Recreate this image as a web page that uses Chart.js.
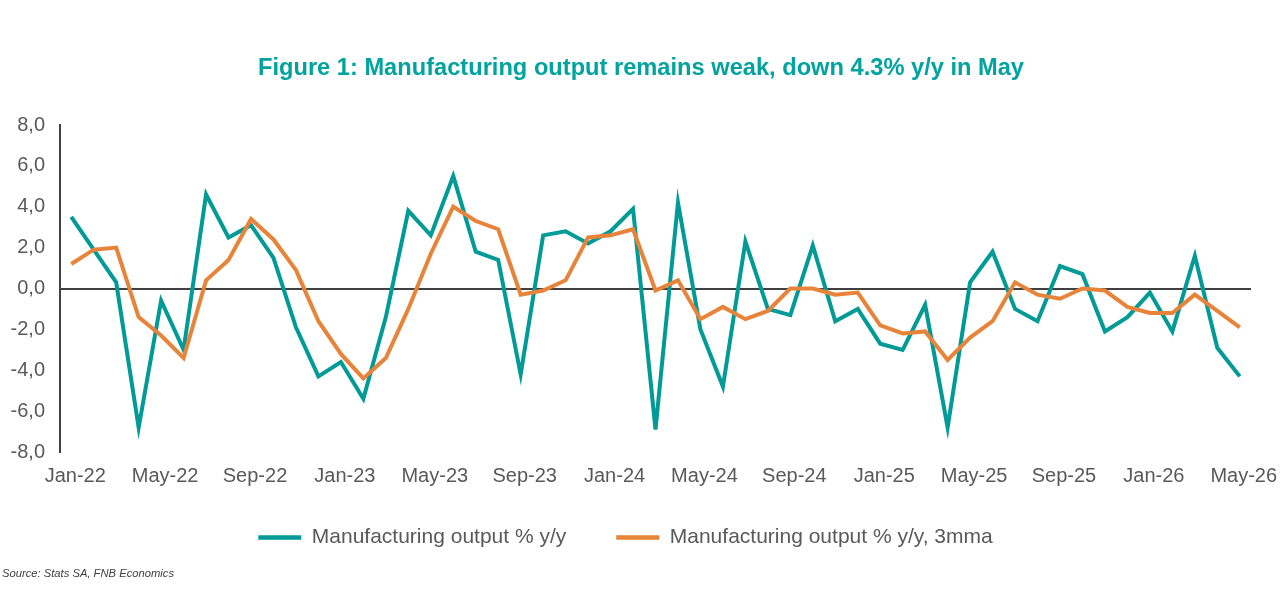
<!DOCTYPE html>
<html><head><meta charset="utf-8">
<script src="https://cdn.jsdelivr.net/npm/chart.js@4.4.1/dist/chart.umd.min.js"></script>
<style>html,body{margin:0;padding:0;background:#fff;overflow:hidden}#wrap{width:1281px;height:596px;position:relative}</style>
</head><body><div id="wrap"><canvas id="c" width="1281" height="596"></canvas></div>
<script>
const categories = ["Jan-22","Feb-22","Mar-22","Apr-22","May-22","Jun-22","Jul-22","Aug-22","Sep-22","Oct-22","Nov-22","Dec-22",
"Jan-23","Feb-23","Mar-23","Apr-23","May-23","Jun-23","Jul-23","Aug-23","Sep-23","Oct-23","Nov-23","Dec-23",
"Jan-24","Feb-24","Mar-24","Apr-24","May-24","Jun-24","Jul-24","Aug-24","Sep-24","Oct-24","Nov-24","Dec-24",
"Jan-25","Feb-25","Mar-25","Apr-25","May-25","Jun-25","Jul-25","Aug-25","Sep-25","Oct-25","Nov-25","Dec-25",
"Jan-26","Feb-26","Mar-26","Apr-26","May-26"];
const outputYoY = [3.5, 1.9, 0.3, -6.8, -0.6, -3.0, 4.6, 2.5, 3.1, 1.5, -1.9, -4.3,
  -3.6, -5.4, -1.4, 3.8, 2.6, 5.5, 1.8, 1.4, -4.2, 2.6, 2.8, 2.2,
  2.8, 3.9, -6.9, 4.2, -2.0, -4.8, 2.3, -1.0, -1.3, 2.1, -1.6, -1.0,
  -2.7, -3.0, -0.8, -6.8, 0.3, 1.8, -1.0, -1.6, 1.1, 0.7, -2.1, -1.4,
  -0.2, -2.1, 1.6, -2.9, -4.3];
const output3mma = [1.2, 1.9, 2.0, -1.4, -2.3, -3.4, 0.4, 1.4, 3.4, 2.4, 0.9, -1.6,
  -3.2, -4.4, -3.4, -1.0, 1.7, 4.0, 3.3, 2.9, -0.3, -0.1, 0.4, 2.5,
  2.6, 2.9, -0.1, 0.4, -1.5, -0.9, -1.5, -1.1, 0.0, 0.0, -0.3, -0.2,
  -1.8, -2.2, -2.1, -3.5, -2.4, -1.6, 0.3, -0.3, -0.5, 0.0, -0.1, -0.9,
  -1.2, -1.2, -0.3, -1.1, -1.9];
const yMin = -8, yMax = 8, yStep = 2;
const labelEvery = 4;
const seriesNames = ["Manufacturing output % y/y", "Manufacturing output % y/y, 3mma"];
const titleText = "Figure 1: Manufacturing output remains weak, down 4.3% y/y in May";
const sourceText = "Source: Stats SA, FNB Economics";

const TEAL = '#009A97', ORANGE = '#E8833A', TITLE_TEAL = '#00A39D', GREY = '#595959', AXIS = '#404040';
const FAMILY = '"Liberation Sans", Arial, sans-serif';

const textPlugin = {
  id: 'texts',
  afterDraw(chart) {
    const ctx = chart.ctx;
    ctx.save();
    ctx.font = 'bold 23px ' + FAMILY;
    ctx.fillStyle = TITLE_TEAL;
    ctx.textBaseline = 'alphabetic';
    ctx.textAlign = 'left';
    let w = ctx.measureText(titleText).width;
    ctx.translate(258, 75);
    ctx.scale(766 / w, 1);
    ctx.fillText(titleText, 0, 0);
    ctx.restore();
    ctx.save();
    ctx.font = 'italic 11.5px ' + FAMILY;
    ctx.fillStyle = AXIS;
    ctx.textBaseline = 'alphabetic';
    ctx.textAlign = 'left';
    w = ctx.measureText(sourceText).width;
    ctx.translate(2, 576.5);
    ctx.scale(172 / w, 1);
    ctx.fillText(sourceText, 0, 0);
    ctx.restore();
  }
};

new Chart(document.getElementById('c'), {
  type: 'line',
  data: {
    labels: categories,
    datasets: [
      { label: seriesNames[0], data: outputYoY, borderColor: TEAL, backgroundColor: TEAL, borderWidth: 4,
        pointRadius: 0, tension: 0, order: 2, borderJoinStyle: 'miter', borderCapStyle: 'butt' },
      { label: seriesNames[1], data: output3mma, borderColor: ORANGE, backgroundColor: ORANGE, borderWidth: 4,
        pointRadius: 0, tension: 0, order: 1, borderJoinStyle: 'miter', borderCapStyle: 'butt' }
    ]
  },
  options: {
    responsive: false,
    animation: false,
    devicePixelRatio: 1,
    layout: { padding: { left: 0, right: 30, top: 125, bottom: 38 } },
    plugins: {
      title: { display: false },
      tooltip: { enabled: false },
      legend: {
        display: true,
        position: 'bottom',
        labels: {
          font: { size: 21, family: FAMILY },
          color: GREY,
          boxWidth: 43,
          boxHeight: 4.5,
          padding: 50,
          sort: (a, b) => a.datasetIndex - b.datasetIndex,
          generateLabels: (chart) => chart.data.datasets.map((d, i) => ({
            text: d.label, fillStyle: d.borderColor, strokeStyle: d.borderColor,
            lineWidth: 0, hidden: false, datasetIndex: i, fontColor: GREY
          }))
        }
      }
    },
    scales: {
      x: {
        type: 'category',
        offset: true,
        grid: { display: false },
        border: { display: false },
        ticks: {
          autoSkip: false, maxRotation: 0, minRotation: 0,
          padding: 4, labelOffset: 4,
          font: { size: 20, family: FAMILY }, color: GREY,
          callback: (v, i) => (i % labelEvery === 0 ? categories[i] : null)
        },
        afterFit: (s) => {
          s.height = 25; s.paddingLeft = 0; s.paddingRight = 0;
          s._computeLabelArea = () => undefined;
        }
      },
      y: {
        min: yMin, max: yMax,
        ticks: {
          stepSize: yStep, padding: 15,
          font: { size: 20, family: FAMILY }, color: GREY,
          callback: (v) => v.toFixed(1).replace('.', ',')
        },
        grid: {
          drawTicks: false,
          color: (c) => (c.tick && c.tick.value === 0 ? AXIS : 'rgba(0,0,0,0)'),
          lineWidth: 2
        },
        border: { display: true, color: AXIS, width: 2 },
        afterFit: (s) => { s.width = 60; }
      }
    }
  },
  plugins: [textPlugin]
});
</script>
</body></html>
